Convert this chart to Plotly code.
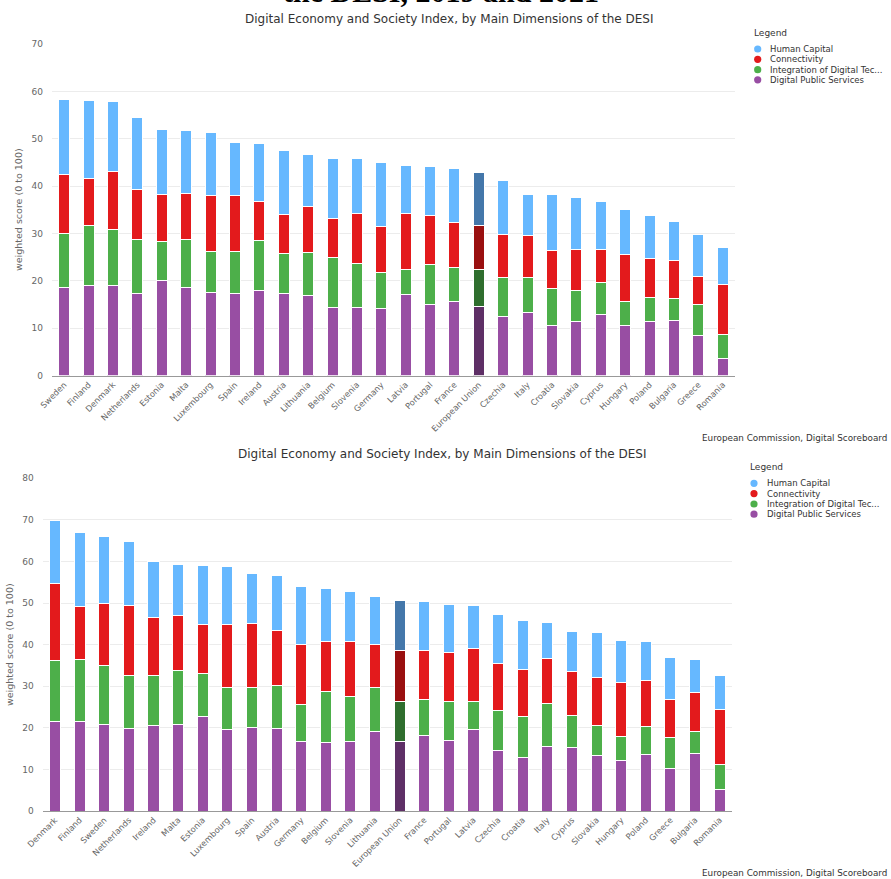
import plotly.graph_objects as go

W, H = 891, 879

# ---------------- data ----------------
series_names = ["Human Capital", "Connectivity", "Integration of Digital Tec...", "Digital Public Services"]
series_colors = ["#66b8ff", "#e31a1c", "#4daf4a", "#984ea3"]
eu_colors = ["#4477aa", "#9a1010", "#2f6e2e", "#5e2f66"]

countries_2019 = ["Sweden", "Finland", "Denmark", "Netherlands", "Estonia", "Malta", "Luxembourg",
                  "Spain", "Ireland", "Austria", "Lithuania", "Belgium", "Slovenia", "Germany",
                  "Latvia", "Portugal", "France", "European Union", "Czechia", "Italy", "Croatia",
                  "Slovakia", "Cyprus", "Hungary", "Poland", "Bulgaria", "Greece", "Romania"]
dps_2019 = [18.6, 19.0, 19.1, 17.3, 20.1, 18.6, 17.5, 17.4, 17.9, 17.3, 16.9, 14.3, 14.4, 14.2,
            17.2, 15.1, 15.6, 14.5, 12.5, 13.3, 10.7, 11.5, 12.9, 10.7, 11.5, 11.7, 8.5, 3.6]
idt_2019 = [11.4, 12.6, 11.8, 11.5, 8.3, 10.2, 8.7, 8.8, 10.7, 8.4, 9.1, 10.6, 9.3, 7.6,
            5.2, 8.4, 7.2, 7.9, 8.3, 7.5, 7.8, 6.5, 6.7, 5.0, 5.1, 4.5, 6.6, 5.1]
con_2019 = [12.4, 10.0, 12.1, 10.6, 9.9, 9.7, 11.9, 11.9, 8.1, 8.4, 9.7, 8.3, 10.5, 9.7,
            11.9, 10.3, 9.6, 9.3, 9.0, 8.8, 8.0, 8.6, 7.0, 9.8, 8.1, 8.1, 5.9, 10.6]
hc_2019 = [15.8, 16.4, 14.8, 15.0, 13.6, 13.3, 13.2, 11.2, 12.3, 13.5, 10.9, 12.7, 11.6, 13.4,
           10.1, 10.3, 11.4, 11.2, 11.3, 8.7, 11.8, 11.0, 10.2, 9.6, 9.1, 8.3, 8.9, 7.7]

countries_2021 = ["Denmark", "Finland", "Sweden", "Netherlands", "Ireland", "Malta", "Estonia",
                  "Luxembourg", "Spain", "Austria", "Germany", "Belgium", "Slovenia", "Lithuania",
                  "European Union", "France", "Portugal", "Latvia", "Czechia", "Croatia", "Italy",
                  "Cyprus", "Slovakia", "Hungary", "Poland", "Greece", "Bulgaria", "Romania"]
dps_2021 = [21.5, 21.5, 20.8, 19.8, 20.5, 20.8, 22.8, 19.6, 20.0, 19.8, 16.7, 16.4, 16.8, 19.2,
            16.8, 18.1, 17.0, 19.7, 14.5, 12.8, 15.6, 15.3, 13.4, 12.1, 13.7, 10.3, 13.9, 5.2]
idt_2021 = [14.7, 15.0, 14.1, 12.8, 12.1, 12.9, 10.3, 10.0, 9.8, 10.3, 8.9, 12.4, 10.8, 10.5,
            9.5, 8.8, 9.3, 6.7, 9.7, 10.0, 10.3, 7.7, 7.1, 5.9, 6.6, 7.3, 5.1, 6.1]
con_2021 = [18.5, 12.7, 14.9, 16.9, 13.9, 13.4, 11.7, 15.2, 15.3, 13.3, 14.5, 12.0, 13.2, 10.4,
            12.4, 11.8, 11.9, 12.6, 11.2, 11.3, 10.7, 10.5, 11.6, 12.9, 11.0, 9.3, 9.5, 13.1]
hc_2021 = [15.1, 17.8, 16.2, 15.4, 13.5, 12.2, 14.3, 14.0, 12.1, 13.3, 13.8, 12.7, 11.9, 11.5,
           11.9, 11.6, 11.5, 10.4, 11.9, 11.8, 8.7, 9.7, 10.9, 10.1, 9.4, 10.1, 8.0, 8.2]

chart_title = "Digital Economy and Society Index, by Main Dimensions of the DESI"
page_title_tail = "the DESI, 2019 and 2021"
y_title = "weighted score (0 to 100)"
source = "European Commission, Digital Scoreboard"
legend_title = "Legend"

FONT = "DejaVu Sans"

def px(x):
    return x / W

def py(y):
    return 1 - y / H

fig = go.Figure()

def add_chart(cats, series, xa, ya):
    # stacked from bottom: DPS, IDT, CON, HC
    order = [3, 2, 1, 0]
    for i in order:
        cols = [eu_colors[i] if c == "European Union" else series_colors[i] for c in cats]
        fig.add_trace(go.Bar(
            x=cats, y=series[i], name=series_names[i],
            marker=dict(color=cols, line=dict(color="white", width=1)),
            xaxis=xa, yaxis=ya, showlegend=False,
        ))

add_chart(countries_2019, [hc_2019, con_2019, idt_2019, dps_2019], "x", "y")
add_chart(countries_2021, [hc_2021, con_2021, idt_2021, dps_2021], "x2", "y2")

xcommon = dict(type="category", tickangle=-45, showgrid=False, showline=True,
               linecolor="#999999", linewidth=1, ticks="", automargin=False, zeroline=False,
               tickfont=dict(family=FONT, size=8.3, color="#666666"))
ycommon = dict(showgrid=True, gridcolor="#ececec", gridwidth=1, zeroline=False,
               showline=False, dtick=10, ticks="", ticklabelstandoff=8, automargin=False,
               tickfont=dict(family=FONT, size=9, color="#666666"))

fig.update_layout(
    template="none",
    width=W, height=H, margin=dict(l=0, r=0, t=0, b=0, autoexpand=False),
    paper_bgcolor="white", plot_bgcolor="white",
    barmode="stack", bargap=0.55,
    font=dict(family=FONT),
    xaxis=dict(domain=[px(52), px(735)], anchor="y", **xcommon),
    yaxis=dict(domain=[py(375.7), py(44)], anchor="x", range=[0, 70], **ycommon),
    xaxis2=dict(domain=[px(42.7), px(732)], anchor="y2", **xcommon),
    yaxis2=dict(domain=[py(811), py(478.3)], anchor="x2", range=[0, 80], **ycommon),
)

ann = []
shapes = []
# cropped page title at very top (only its lower edge is visible in the reference)
ann.append(dict(x=px(441), y=py(10.5), xref="paper", yref="paper", xanchor="center", yanchor="bottom",
                text="<b>" + page_title_tail + "</b>", showarrow=False,
                font=dict(family="Liberation Serif", size=30, color="#000000")))
# chart titles
for cx, cy in [(449, 19), (442, 454)]:
    ann.append(dict(x=px(cx), y=py(cy), xref="paper", yref="paper", xanchor="center", yanchor="middle",
                    text=chart_title, showarrow=False,
                    font=dict(family=FONT, size=12, color="#333333")))
# y titles
for cx, cy in [(18, 210), (9, 645)]:
    ann.append(dict(x=px(cx), y=py(cy), xref="paper", yref="paper", xanchor="center", yanchor="middle",
                    text=y_title, textangle=-90, showarrow=False,
                    font=dict(family=FONT, size=9.5, color="#666666")))
# sources
for cy in [438, 873]:
    ann.append(dict(x=px(889), y=py(cy), xref="paper", yref="paper", xanchor="right", yanchor="middle",
                    text=source, showarrow=False,
                    font=dict(family=FONT, size=8.8, color="#333333")))
# legends
for (lx, ly, mx, tx, ys) in [(752, 33, 757.7, 767.7, [49, 59.3, 69.7, 79.8]),
                             (748, 467, 754, 765, [483.3, 493.6, 504, 514.2])]:
    ann.append(dict(x=px(lx), y=py(ly), xref="paper", yref="paper", xanchor="left", yanchor="middle",
                    text=legend_title, showarrow=False,
                    font=dict(family=FONT, size=9, color="#333333")))
    for i, yy in enumerate(ys):
        r = 3.6
        shapes.append(dict(type="circle", xref="paper", yref="paper",
                           x0=px(mx - r), x1=px(mx + r), y0=py(yy + r), y1=py(yy - r),
                           fillcolor=series_colors[i], line=dict(width=0)))
        ann.append(dict(x=px(tx), y=py(yy), xref="paper", yref="paper", xanchor="left", yanchor="middle",
                        text=series_names[i], showarrow=False,
                        font=dict(family=FONT, size=8.5, color="#333333")))

fig.update_layout(annotations=ann, shapes=shapes)
fig.write_html("out.html", config={"displayModeBar": False},
               post_script="document.body.style.margin='0px';document.body.style.overflow='hidden';")
